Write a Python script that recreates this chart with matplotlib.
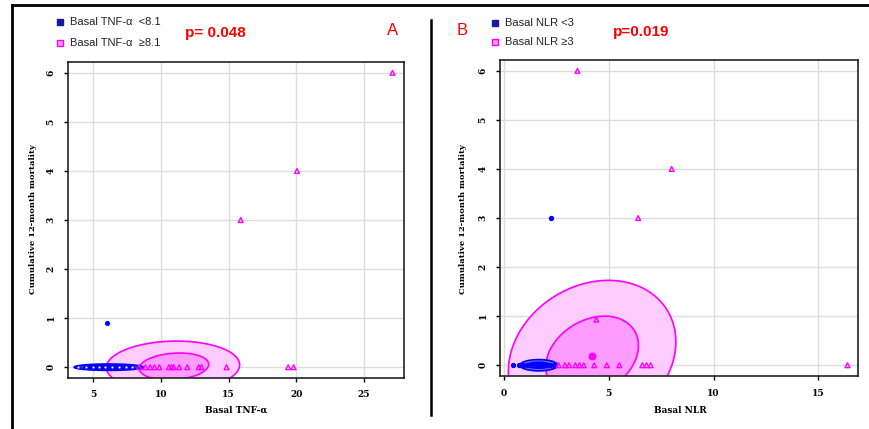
import numpy as np
import matplotlib
matplotlib.use("Agg")
import matplotlib.pyplot as plt
from matplotlib.lines import Line2D

# ---------------- data ----------------
# Panel A: Basal TNF-alpha vs cumulative 12-month mortality
tnf_low_x = [3.9, 4.5, 5.0, 5.4, 5.9, 6.4, 6.9, 7.4, 7.9, 6.03]
tnf_low_y = [0, 0, 0, 0, 0, 0, 0, 0, 0, 0.91]
tnf_high_x = [8.4, 8.87, 9.21, 9.53, 9.89, 10.6, 10.8, 10.96, 11.35, 11.95, 12.8, 13.0, 14.85, 19.4, 19.8, 15.9, 20.05, 27.1]
tnf_high_y = [0, 0, 0, 0, 0, 0, 0, 0, 0, 0, 0, 0, 0, 0, 0, 3, 4, 6]

# Panel B: Basal NLR vs cumulative 12-month mortality
nlr_low_x = [0.4, 0.7, 0.9, 1.1, 1.3, 1.5, 1.6, 1.7, 1.8, 1.9, 2.0, 2.2, 2.4, 2.23]
nlr_low_y = [0, 0, 0, 0, 0, 0, 0, 0, 0, 0, 0, 0, 0, 3]
nlr_high_x = [2.6, 2.9, 3.1, 3.4, 3.6, 3.8, 4.3, 4.9, 5.5, 6.6, 6.8, 7.0, 16.4, 4.4, 3.5, 6.4, 8.0]
nlr_high_y = [0, 0, 0, 0, 0, 0, 0, 0, 0, 0, 0, 0, 0, 0.93, 6, 3, 4]

# data-ellipse parameters: (cx, cy, ax, c, b, ay)
# x = cx + ax*cos t + c*sin t ; y = cy + b*cos t + ay*sin t
ellA_high = [(10.9, 0.02, 4.85, -0.8, 0.11, 0.50), (10.97, 0.015, 2.53, -0.4, 0.085, 0.26)]
ellA_low = [(6.15, 0.0, 2.55, 0.0, 0.0, 0.065), (6.15, 0.0, 1.8, 0.0, 0.0, 0.04)]
ellB_high = [(4.2, 0.18, 4.0, 0.0, 0.30, 1.52), (4.2, 0.18, 2.2, 0.25, 0.13, 0.81)]
ellB_low = [(1.65, 0.0, 0.9, 0.0, 0.0, 0.115), (1.65, 0.0, 0.55, 0.0, 0.0, 0.06)]
centerB_high = (4.2, 0.18)

labels_A = ["Basal TNF-\u03b1  <8.1", "Basal TNF-\u03b1  \u22658.1"]
labels_B = ["Basal NLR <3", "Basal NLR \u22653"]
pvals = ["p= 0.048", "p=0.019"]
xlabels = ["Basal TNF-\u03b1", "Basal NLR"]
ylabel = "Cumulative 12-month mortality"
xticks_A = [5, 10, 15, 20, 25]
xticks_B = [0, 5, 10, 15]
yticks = [0, 1, 2, 3, 4, 5, 6]

MAG = "#ff00ff"
BLUE = "#0000ff"

fig = plt.figure(figsize=(8.7, 4.29), dpi=100)

def ell_pts(p):
    cx, cy, ax_, c, b, ay = p
    t = np.linspace(0, 2 * np.pi, 300)
    return cx + ax_ * np.cos(t) + c * np.sin(t), cy + b * np.cos(t) + ay * np.sin(t)

def style_axes(ax, xticks, xlim):
    ax.set_xlim(*xlim)
    ax.set_ylim(-0.22, 6.22)
    ax.set_xticks(xticks)
    ax.set_yticks(yticks)
    ax.grid(True, color="#dddddd", lw=1.0, zorder=0)
    ax.set_axisbelow(True)
    for s in ax.spines.values():
        s.set_linewidth(1.2)
        s.set_color("#222222")
    ax.tick_params(direction="out", length=3, width=1, pad=6)
    for lab in ax.get_xticklabels():
        lab.set_fontfamily("DejaVu Serif")
        lab.set_fontsize(6.5)
        lab.set_fontweight("bold")
    for lab in ax.get_yticklabels():
        lab.set_fontfamily("DejaVu Serif")
        lab.set_fontsize(6.5)
        lab.set_fontweight("bold")
        lab.set_rotation(90)
        lab.set_va("center")

def draw_ellipses(ax, ells, color, fills):
    for p, fc in zip(ells, fills):
        x, y = ell_pts(p)
        ax.fill(x, y, facecolor=fc, edgecolor=color, lw=1.2, zorder=2)

# ---- Panel A ----
axA = fig.add_axes([0.0782, 0.1189, 0.3862, 0.7366])
draw_ellipses(axA, ellA_high, MAG, ["#ffccff", "#ff9cff"])
draw_ellipses(axA, ellA_low, BLUE, ["#2a2ae6", "#1010d0"])
axA.scatter(tnf_low_x[:-1], tnf_low_y[:-1], s=4, marker="o", facecolor="white", edgecolor=BLUE, lw=0.4, zorder=3)
axA.scatter(tnf_low_x[-1:], tnf_low_y[-1:], s=7, marker="o", color=BLUE, zorder=3)
axA.scatter(tnf_high_x, tnf_high_y, s=12, marker="^", facecolor="none", edgecolor=MAG, lw=1.0, zorder=3)
style_axes(axA, xticks_A, (3.15, 27.95))

# ---- Panel B ----
axB = fig.add_axes([0.5747, 0.1235, 0.4115, 0.7366])
draw_ellipses(axB, ellB_high, MAG, ["#ffccff", "#ff9cff"])
draw_ellipses(axB, ellB_low, BLUE, ["#6a6af0", "#2020e0"])
axB.scatter(nlr_low_x, nlr_low_y, s=8, marker="o", color=BLUE, zorder=3)
axB.scatter(nlr_high_x, nlr_high_y, s=12, marker="^", facecolor="none", edgecolor=MAG, lw=1.0, zorder=3)
axB.scatter([centerB_high[0]], [centerB_high[1]], s=22, marker="o", color=MAG, zorder=3)
style_axes(axB, xticks_B, (-0.2, 16.9))

# ---- axis labels ----
for x in (0.038, 0.532):
    fig.text(x, 0.49, ylabel, rotation=90, ha="center", va="center",
             fontfamily="DejaVu Serif", fontsize=6, fontweight="bold")
fig.text(0.271, 0.044, xlabels[0], ha="center", va="center",
         fontfamily="DejaVu Serif", fontsize=6.5, fontweight="bold")
fig.text(0.782, 0.044, xlabels[1], ha="center", va="center",
         fontfamily="DejaVu Serif", fontsize=6.5, fontweight="bold")

# ---- legends / annotations ----
def legend_row(x, y, color, face, label):
    fig.add_artist(Line2D([x], [y], marker="s", markersize=5, markerfacecolor=face,
                          markeredgecolor=color, linestyle="none", transform=fig.transFigure))
    fig.text(x + 0.012, y, label, ha="left", va="center", fontfamily="Liberation Sans",
             fontsize=8, color="#222222")

legend_row(0.069, 0.949, "#1a1aa0", "#1a1aa0", labels_A[0])
legend_row(0.069, 0.900, MAG, "#ff9cff", labels_A[1])
legend_row(0.569, 0.947, "#1a1aa0", "#1a1aa0", labels_B[0])
legend_row(0.569, 0.902, MAG, "#ff9cff", labels_B[1])

fig.text(0.2126, 0.923, pvals[0], ha="left", va="center", color="red",
         fontfamily="Liberation Sans", fontsize=11, fontweight="bold")
fig.text(0.7046, 0.926, pvals[1], ha="left", va="center", color="red",
         fontfamily="Liberation Sans", fontsize=11, fontweight="bold")
fig.text(0.4517, 0.930, "A", ha="center", va="center", color="red",
         fontfamily="Liberation Sans", fontsize=12)
fig.text(0.531, 0.928, "B", ha="center", va="center", color="red",
         fontfamily="Liberation Sans", fontsize=12)

# ---- frame lines ----
fig.add_artist(Line2D([0.0138, 0.0138], [0.0, 0.988], color="black", lw=2, transform=fig.transFigure))
fig.add_artist(Line2D([0.0138, 1.0], [0.988, 0.988], color="black", lw=2, transform=fig.transFigure))
fig.add_artist(Line2D([0.4954, 0.4954], [0.033, 0.953], color="black", lw=1.8, transform=fig.transFigure))

fig.savefig("out.png", dpi=100)
